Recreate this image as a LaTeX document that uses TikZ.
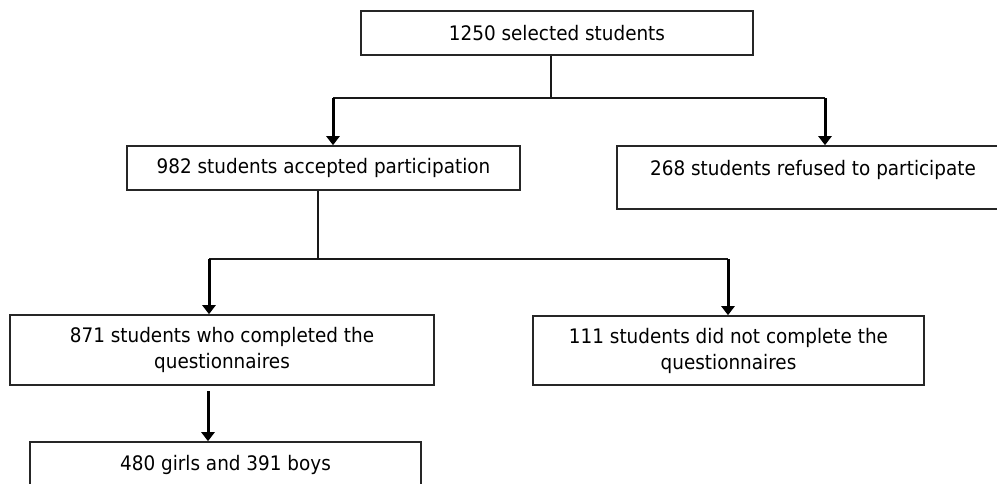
\documentclass[tikz,border=0pt]{standalone}
\usepackage{fontspec}
\setmainfont{DejaVu Sans}[FakeStretch=0.92]
\usetikzlibrary{arrows.meta}
\tikzset{
  boxnode/.style={draw=black!85, line width=1.6pt, rectangle, inner sep=0pt, align=center,
    font=\fontsize{20}{26}\selectfont},
  conn/.style={draw=black!90, line width=1.4pt},
  arr/.style={draw=black, line width=3pt, -{Triangle[width=13pt,length=9pt]}},
}
\begin{document}
\begin{tikzpicture}[x=1pt,y=-1pt]
\useasboundingbox (0,0) rectangle (997,483);
\clip (0,0) rectangle (997,483);
% boxes
\node[boxnode, minimum width=392pt, minimum height=44pt] (top) at (557,33) {1250 selected students};
\node[boxnode, minimum width=393pt, minimum height=44pt] (acc) at (323.5,168) {982 students accepted participation};
\node[boxnode, minimum width=392pt, minimum height=63pt, text height=15pt, text depth=20pt] (ref) at (813,177.5) {268 students refused to participate};
\node[boxnode, minimum width=424pt, minimum height=70pt] (comp) at (222,350) {871 students who completed the\\questionnaires};
\node[boxnode, minimum width=391pt, minimum height=69pt] (notc) at (728.5,350.5) {111 students did not complete the\\questionnaires};
\node[boxnode, minimum width=391pt, minimum height=46pt] (girls) at (225.5,465) {480 girls and 391 boys};
% junctions
\coordinate (j1) at (551,98);
\coordinate (aL) at (333,98);
\coordinate (aR) at (825,98);
\coordinate (j2) at (318,259);
\coordinate (bL) at (209,259);
\coordinate (bR) at (728,259);
\coordinate (cS) at (208,391);
% connectors
\draw[conn] (j1 |- top.south) -- (j1);
\draw[conn] (aL) -- (aR);
\draw[arr] (aL) -- (aL |- acc.north);
\draw[arr] (aR) -- (aR |- ref.north);
\draw[conn] (j2 |- acc.south) -- (j2);
\draw[conn] (bL) -- (bR);
\draw[arr] (bL) -- (bL |- comp.north);
\draw[arr] (bR) -- (bR |- notc.north);
\draw[arr] (cS) -- (cS |- girls.north);
\end{tikzpicture}
\end{document}
